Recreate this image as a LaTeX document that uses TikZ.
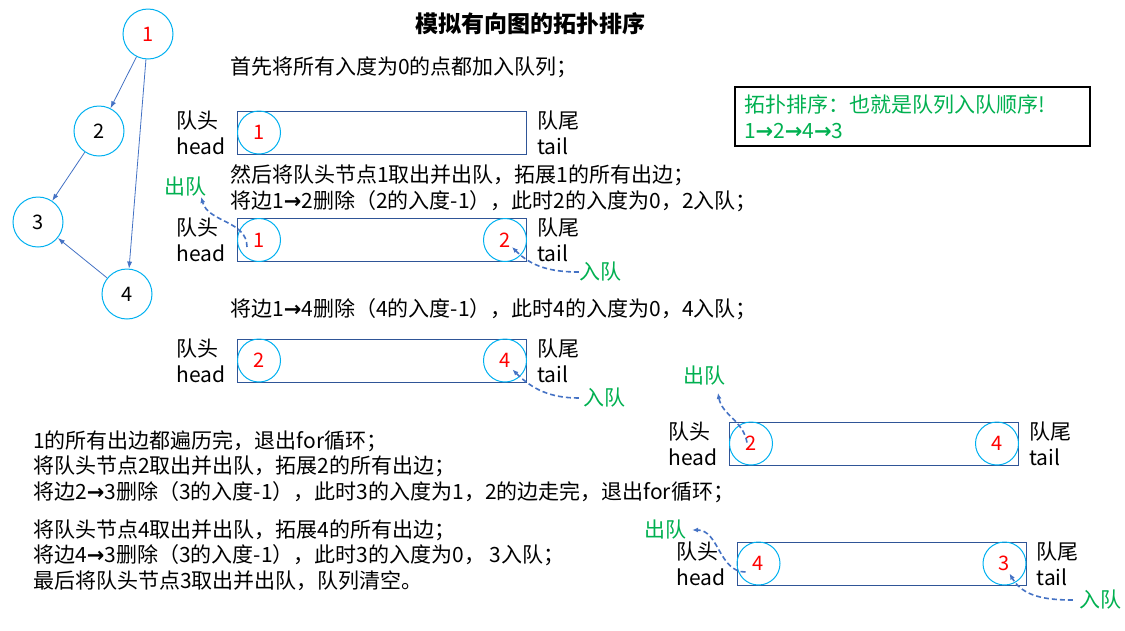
\documentclass[tikz,border=0pt]{standalone}
\usepackage{fontspec}
\setmainfont{Noto Sans CJK SC}
\newfontfamily\arrowfont{DejaVu Sans}
\newcommand{\ra}{{\arrowfont\bfseries →}}
\usetikzlibrary{positioning, arrows.meta}

\definecolor{ringcyan}{HTML}{00B0F0}
\definecolor{boxblue}{HTML}{2F5597}
\definecolor{linkblue}{HTML}{4472C4}
\definecolor{taggreen}{HTML}{00B050}

\tikzset{
  vnode/.style={circle, draw=ringcyan, line width=1pt, minimum size=50pt,
                inner sep=0pt, font=\fontsize{20}{24}\selectfont},
  qbox/.style={draw=boxblue, line width=1pt, minimum width=289pt,
               minimum height=43pt, inner sep=0pt},
  qnode/.style={circle, draw=ringcyan, line width=1pt, minimum size=43pt,
                inner sep=0pt, text=red, font=\fontsize{20}{24}\selectfont},
  side/.style={align=left, inner sep=0pt, font=\fontsize{21}{26}\selectfont},
  note/.style={anchor=west, align=left, inner sep=0pt,
               font=\fontsize{21}{25.5}\selectfont},
  tag/.style={text=taggreen, inner sep=0pt, font=\fontsize{21}{24}\selectfont},
  resbox/.style={draw=black, line width=1.6pt, text width=337pt, inner xsep=9pt,
                 inner ysep=4pt, minimum height=59pt, align=left, text=taggreen,
                 font=\fontsize{21}{26}\selectfont},
  edge/.style={linkblue, line width=0.8pt, -{Latex[length=7pt,width=5pt]}},
  move/.style={linkblue, line width=1.6pt, dash pattern=on 5pt off 3pt,
               -{Latex[length=6pt,width=5pt]}}
}

\begin{document}
\begin{tikzpicture}[x=1pt, y=1pt]
\useasboundingbox (0,0) rectangle (1125,-630);

% directed graph
\node[vnode, text=red] (v1) at (148,-34) {1};
\node[vnode] (v2) at (99,-131) {2};
\node[vnode] (v3) at (38,-222) {3};
\node[vnode] (v4) at (127,-294) {4};
\draw[edge] (v1) -- (v2);
\draw[edge] (v2) -- (v3);
\draw[edge] (v1) -- (v4);
\draw[edge] (v4) -- (v3);

\node[font=\bfseries\fontsize{23}{26}\selectfont] (title) at (530,-24) {模拟有向图的拓扑排序};

% explanation
\node[note] (s0) at (230,-67) {首先将所有入度为0的点都加入队列；};
\node[note] (s1) at (230,-188.5) {然后将队头节点1取出并出队，拓展1的所有出边；\\
  将边1\ra2删除（2的入度-1），此时2的入度为0，2入队；};
\node[note] (s2) at (230,-309) {将边1\ra4删除（4的入度-1），此时4的入度为0，4入队；};
\node[note] (s3) at (33,-466.5) {1的所有出边都遍历完，退出for循环；\\
  将队头节点2取出并出队，拓展2的所有出边；\\
  将边2\ra3删除（3的入度-1），此时3的入度为1，2的边走完，退出for循环；};
\node[note] (s4) at (33,-555) {将队头节点4取出并出队，拓展4的所有出边；\\
  将边4\ra3删除（3的入度-1），此时3的入度为0， 3入队；\\
  最后将队头节点3取出并出队，队列清空。};

\node[resbox] (res) at (912.5,-116.5) {拓扑排序：也就是队列入队顺序!\\1\ra2\ra4\ra3};

% queues
\foreach \q/\x/\y in {q1/382/-132.5, q2/382/-240, q3/382/-360.5,
                      q4/874/-443.5, q5/881.5/-563.5}{
  \node[qbox] (\q) at (\x,\y) {};
  \node[side, left=11pt of \q] (\q h) {队头\\head};
  \node[side, right=10pt of \q] (\q t) {队尾\\tail};
}
\node[qnode] (a11) at ([xshift=22pt]q1.west) {1};
\node[qnode] (a21) at ([xshift=22pt]q2.west) {1};
\node[qnode] (a22) at ([xshift=-22pt]q2.east) {2};
\node[qnode] (a31) at ([xshift=22pt]q3.west) {2};
\node[qnode] (a32) at ([xshift=-22pt]q3.east) {4};
\node[qnode] (a41) at ([xshift=22pt]q4.west) {2};
\node[qnode] (a42) at ([xshift=-22pt]q4.east) {4};
\node[qnode] (a51) at ([xshift=22pt]q5.west) {4};
\node[qnode] (a52) at ([xshift=-22pt]q5.east) {3};

% enqueue / dequeue marks
\node[tag] (out2) at (185,-187) {出队};
\node[tag] (in2) at (600,-272) {入队};
\node[tag] (in3) at (604,-398) {入队};
\node[tag] (out4) at (704,-376) {出队};
\node[tag] (out5) at (665,-530) {出队};
\node[tag] (in5) at (1100,-600) {入队};

\draw[move] ([shift={(-12pt,-7pt)}]a21.center) to[out=90,in=-75] ([xshift=-5pt]out2.south east);
\draw[move] (in2.west) to[out=180,in=-45] ([shift={(7pt,-7pt)}]a22.center);
\draw[move] ([xshift=-4pt]in3.west) to[out=180,in=-45] ([shift={(7.5pt,-9pt)}]a32.center);
\draw[move] ([shift={(-4pt,1pt)}]a41.center) to[out=100,in=-80] ([shift={(14pt,-7pt)}]out4.south);
\draw[move] ([shift={(-13pt,-8.5pt)}]a51.center) to[out=180,in=0] ([xshift=6pt]out5.east);
\draw[move] ([xshift=-6pt]in5.west) to[out=180,in=-60] ([shift={(5pt,-10pt)}]a52.center);
\end{tikzpicture}
\end{document}
